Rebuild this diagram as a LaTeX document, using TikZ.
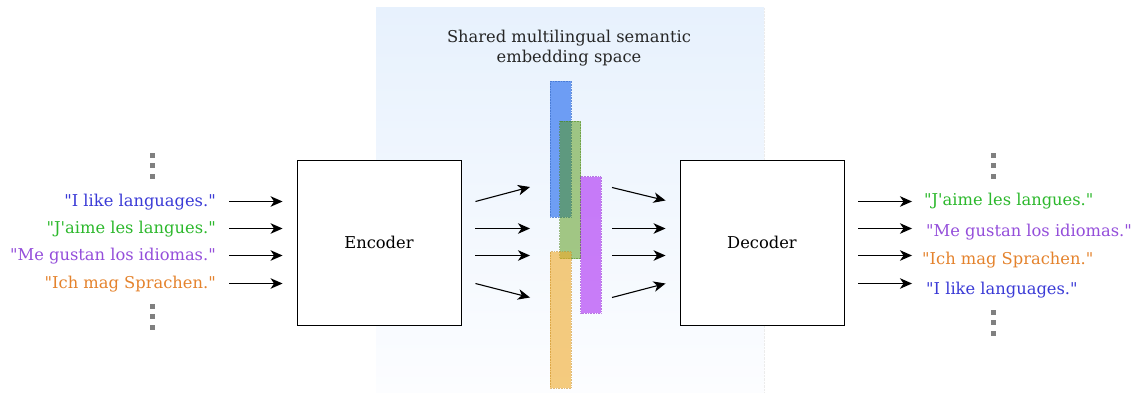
\documentclass[tikz,border=0pt]{standalone}
\usepackage{fontspec}
\setmainfont{DejaVu Serif}[Ligatures=TeXOff]
\usetikzlibrary{arrows.meta}
\definecolor{cblue}{RGB}{58,58,214}
\definecolor{cgreen}{RGB}{44,184,44}
\definecolor{cpurple}{RGB}{148,78,218}
\definecolor{corange}{RGB}{228,130,44}
\definecolor{panelTop}{RGB}{231,241,253}
\definecolor{panelBot}{RGB}{252,253,255}
\definecolor{barBlue}{RGB}{78,136,242}
\definecolor{barGreen}{RGB}{80,150,12}
\definecolor{barPurple}{RGB}{170,40,244}
\definecolor{barOrange}{RGB}{240,170,40}
\definecolor{dotgray}{RGB}{128,128,128}
\tikzset{
  x=1pt, y=-1pt,
  sent/.style={font=\fontsize{16.3}{19}\selectfont, inner sep=0pt},
  flow/.style={-{Stealth[length=12pt,width=10.5pt,inset=3.5pt]}, line width=1.1pt, black},
  block/.style={draw=black, line width=0.9pt, fill=white, font=\fontsize{16.3}{19}\selectfont},
  dotsq/.style={fill=dotgray, draw=none, minimum size=5pt, inner sep=0pt},
  bar/.style={densely dotted, line width=0.6pt},
}
\begin{document}
\begin{tikzpicture}
\useasboundingbox (0,0) rectangle (1132,393);
% embedding space panel
\shade[top color=panelTop, bottom color=panelBot] (376,8) rectangle (764,393);
\draw[gray!15, densely dotted] (764,8) -- (764,393);
\node[font=\fontsize{16.3}{19.5}\selectfont, align=center, text=black!85] (title) at (569,48)
  {Shared multilingual semantic\\embedding space};

% encoder / decoder
\node[block, minimum width=164pt, minimum height=165pt] (enc) at (379,242.5) {Encoder};
\node[block, minimum width=164pt, minimum height=165pt] (dec) at (762,242.5) {Decoder};

% input sentences
\node[sent, anchor=east, text=cblue]   (in1) at (216,202) {"I like languages."};
\node[sent, anchor=east, text=cgreen]  (in2) at (216,229) {"J'aime les langues."};
\node[sent, anchor=east, text=cpurple] (in3) at (216,256) {"Me gustan los idiomas."};
\node[sent, anchor=east, text=corange] (in4) at (216,284) {"Ich mag Sprachen."};

% output sentences
\node[sent, anchor=west, text=cgreen]  (out1) at (924,201) {"J'aime les langues."};
\node[sent, anchor=west, text=cpurple] (out2) at (926,232) {"Me gustan los idiomas."};
\node[sent, anchor=west, text=corange] (out3) at (922,260) {"Ich mag Sprachen."};
\node[sent, anchor=west, text=cblue]   (out4) at (926,290) {"I like languages."};

% ellipsis marks
\foreach \yy [count=\i] in {155,165.5,176} {
  \node[dotsq] (ltop\i) at (152,\yy) {};
  \node[dotsq] (rtop\i) at (993,\yy) {};
}
\foreach \yy [count=\i] in {306,316.5,327} {
  \node[dotsq] (lbot\i) at (152,\yy) {};
}
\foreach \yy [count=\i] in {312,322.5,333} {
  \node[dotsq] (rbot\i) at (993,\yy) {};
}

% embedding bars
\draw[bar, fill=barBlue, fill opacity=0.8, draw=barBlue!85!black, draw opacity=0.8] (550,81) rectangle (571,217);
\draw[bar, fill=barGreen, fill opacity=0.5, draw=barGreen!85!black, draw opacity=0.5] (559.5,121) rectangle (580.5,258.5);
\draw[bar, fill=barOrange, fill opacity=0.6, draw=barOrange!85!black, draw opacity=0.6] (550,251.5) rectangle (571,388);
\draw[bar, fill=barPurple, fill opacity=0.6, draw=barPurple!85!black, draw opacity=0.6] (580.5,176.5) rectangle (601,313);
\coordinate (eb1) at (530,187);
\coordinate (eb2) at (530,228.5);
\coordinate (eb3) at (530,255.5);
\coordinate (eb4) at (530,297.5);
\coordinate (db1) at (612,187.5);
\coordinate (db2) at (612,228.5);
\coordinate (db3) at (612,255.5);
\coordinate (db4) at (612,297.5);

% arrows into the encoder
\foreach \i/\yy in {1/201.5,2/228.5,3/255.5,4/283.5} {
  \coordinate (ia\i) at (229,\yy);
  \draw[flow] (ia\i) -- ([xshift=-14pt]enc.west |- ia\i);
}
% arrows from the encoder to the space
\draw[flow] ([xshift=14pt]enc.east |- 0,201.5) -- (eb1);
\draw[flow] ([xshift=14pt]enc.east |- 0,228.5) -- (eb2);
\draw[flow] ([xshift=14pt]enc.east |- 0,255.5) -- (eb3);
\draw[flow] ([xshift=14pt]enc.east |- 0,283.5) -- (eb4);
% arrows from the space to the decoder
\draw[flow] (db1) -- ([xshift=-14pt]dec.west |- 0,200.5);
\draw[flow] (db2) -- ([xshift=-14pt]dec.west |- 0,228.5);
\draw[flow] (db3) -- ([xshift=-14pt]dec.west |- 0,255.5);
\draw[flow] (db4) -- ([xshift=-14pt]dec.west |- 0,283.5);
% arrows out of the decoder
\foreach \i/\yy in {1/201.5,2/228.5,3/255.5,4/283.5} {
  \coordinate (oa\i) at (912,\yy);
  \draw[flow] ([xshift=14pt]dec.east |- oa\i) -- (oa\i);
}
\end{tikzpicture}
\end{document}
